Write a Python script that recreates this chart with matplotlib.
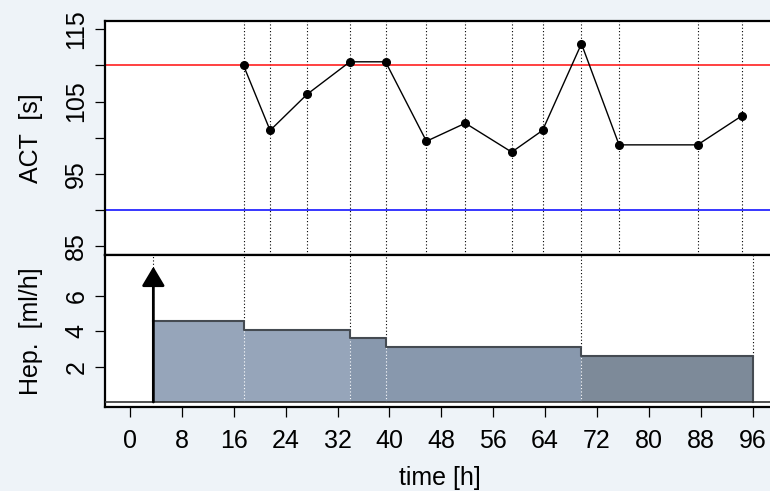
import matplotlib
matplotlib.use("Agg")
import matplotlib.pyplot as plt

plt.rcParams['font.family'] = ['Liberation Sans', 'DejaVu Sans']

#ACT measurements
act_t = [17.5, 21.6, 27.3, 33.9, 39.4, 45.7, 51.7, 58.85, 63.6, 69.6, 75.4, 87.5, 94.3]
act_v = [110, 101, 106, 110.5, 110.5, 99.5, 102, 98, 101, 113, 99, 99, 103]
act_hi = 110
act_lo = 90

#Heparin infusion (step changes)
bolus_t = 3.6
bolus_top = 7.66
hep_t = [3.6, 17.5, 33.9, 39.4, 69.6, 96]
hep_rate = [4.6, 4.1, 3.6, 3.1, 2.6]
hep_colors = ['#96a5ba', '#96a5ba', '#8898ad', '#8898ad', '#7d8a99']

xticks = list(range(0, 97, 8))

bg = '#eef3f8'
fig = plt.figure(figsize=(7.7, 4.91), dpi=100, facecolor=bg)
W, H = 770.0, 491.0
left, right = 105 / W, 775 / W
ax1 = fig.add_axes([left, 1 - 255 / H, right - left, (255 - 21) / H])
ax2 = fig.add_axes([left, 1 - 407 / H, right - left, (407 - 255) / H], sharex=ax1)

xlim = (-3.854, 99.44)
fs = 18

#Top panel: ACT
ax1.set_xlim(*xlim)
ax1.set_ylim(83.75, 116.15)
for t in act_t:
    ax1.axvline(t, color='black', ls=(0, (1, 2)), lw=0.8, zorder=1)
ax1.axhline(act_hi, color='#ff2020', lw=1.2, zorder=2)
ax1.axhline(act_lo, color='#0000ff', lw=1.1, zorder=2)
ax1.plot(act_t, act_v, color='black', lw=1, marker='o', ms=5.5, zorder=3)
ax1.set_yticks([85, 90, 95, 100, 105, 110, 115])
ax1.set_yticklabels(['85', '', '95', '', '105', '', '115'], rotation=90, va='center')
ax1.set_ylabel('ACT  [s]', fontsize=fs, labelpad=15)
ax1.tick_params(axis='x', bottom=False, labelbottom=False)

#Bottom panel: heparin
ax2.set_ylim(-0.283, 8.32)
for i, r in enumerate(hep_rate):
    ax2.fill_between([hep_t[i], hep_t[i + 1]], 0, r, color=hep_colors[i], lw=0, zorder=1)
step_x = [hep_t[0]]
step_y = [hep_rate[0]]
for i, r in enumerate(hep_rate):
    step_x += [hep_t[i], hep_t[i + 1]]
    step_y += [r, r]
step_x.append(hep_t[-1])
step_y.append(0)
ax2.plot(step_x, step_y, color='#454b52', lw=1.5, zorder=3)
#dotted markers at rate changes: black above the fill, white inside it
for i, t in enumerate(hep_t):
    prev_r = hep_rate[i - 1] if i > 0 else 0
    next_r = hep_rate[i] if i < len(hep_rate) else 0
    ax2.plot([t, t], [max(prev_r, next_r), 8.32],
             color='black', ls=(0, (1, 2)), lw=0.8, zorder=2)
    if 0 < i < len(hep_t) - 1:
        ax2.plot([t, t], [0, min(prev_r, next_r)], color='white', ls=(0, (1, 2)), lw=0.8, zorder=2)
ax2.axhline(0, color='#333333', lw=1.2, zorder=3)
ax2.annotate('', xy=(bolus_t, bolus_top), xytext=(bolus_t, 0),
             arrowprops=dict(arrowstyle='-|>,head_length=0.47,head_width=0.28',
                             mutation_scale=25, lw=2, color='black',
                             shrinkA=0, shrinkB=0), zorder=4)
ax2.set_yticks([2, 4, 6])
ax2.set_yticklabels(['2', '4', '6'], rotation=90, va='center')
ax2.set_ylabel('Hep.  [ml/h]', fontsize=fs, labelpad=15)
ax2.set_xticks(xticks)
ax2.set_xlabel('time [h]', fontsize=fs, labelpad=9)

for ax in (ax1, ax2):
    ax.set_facecolor('white')
    for s in ax.spines.values():
        s.set_linewidth(1.6)
    ax.tick_params(labelsize=fs, length=7, width=0.9, direction='out', pad=9)
ax1.tick_params(axis='y', pad=5)
ax2.tick_params(axis='y', pad=5)

fig.savefig('out.png', dpi=100, facecolor=bg)
